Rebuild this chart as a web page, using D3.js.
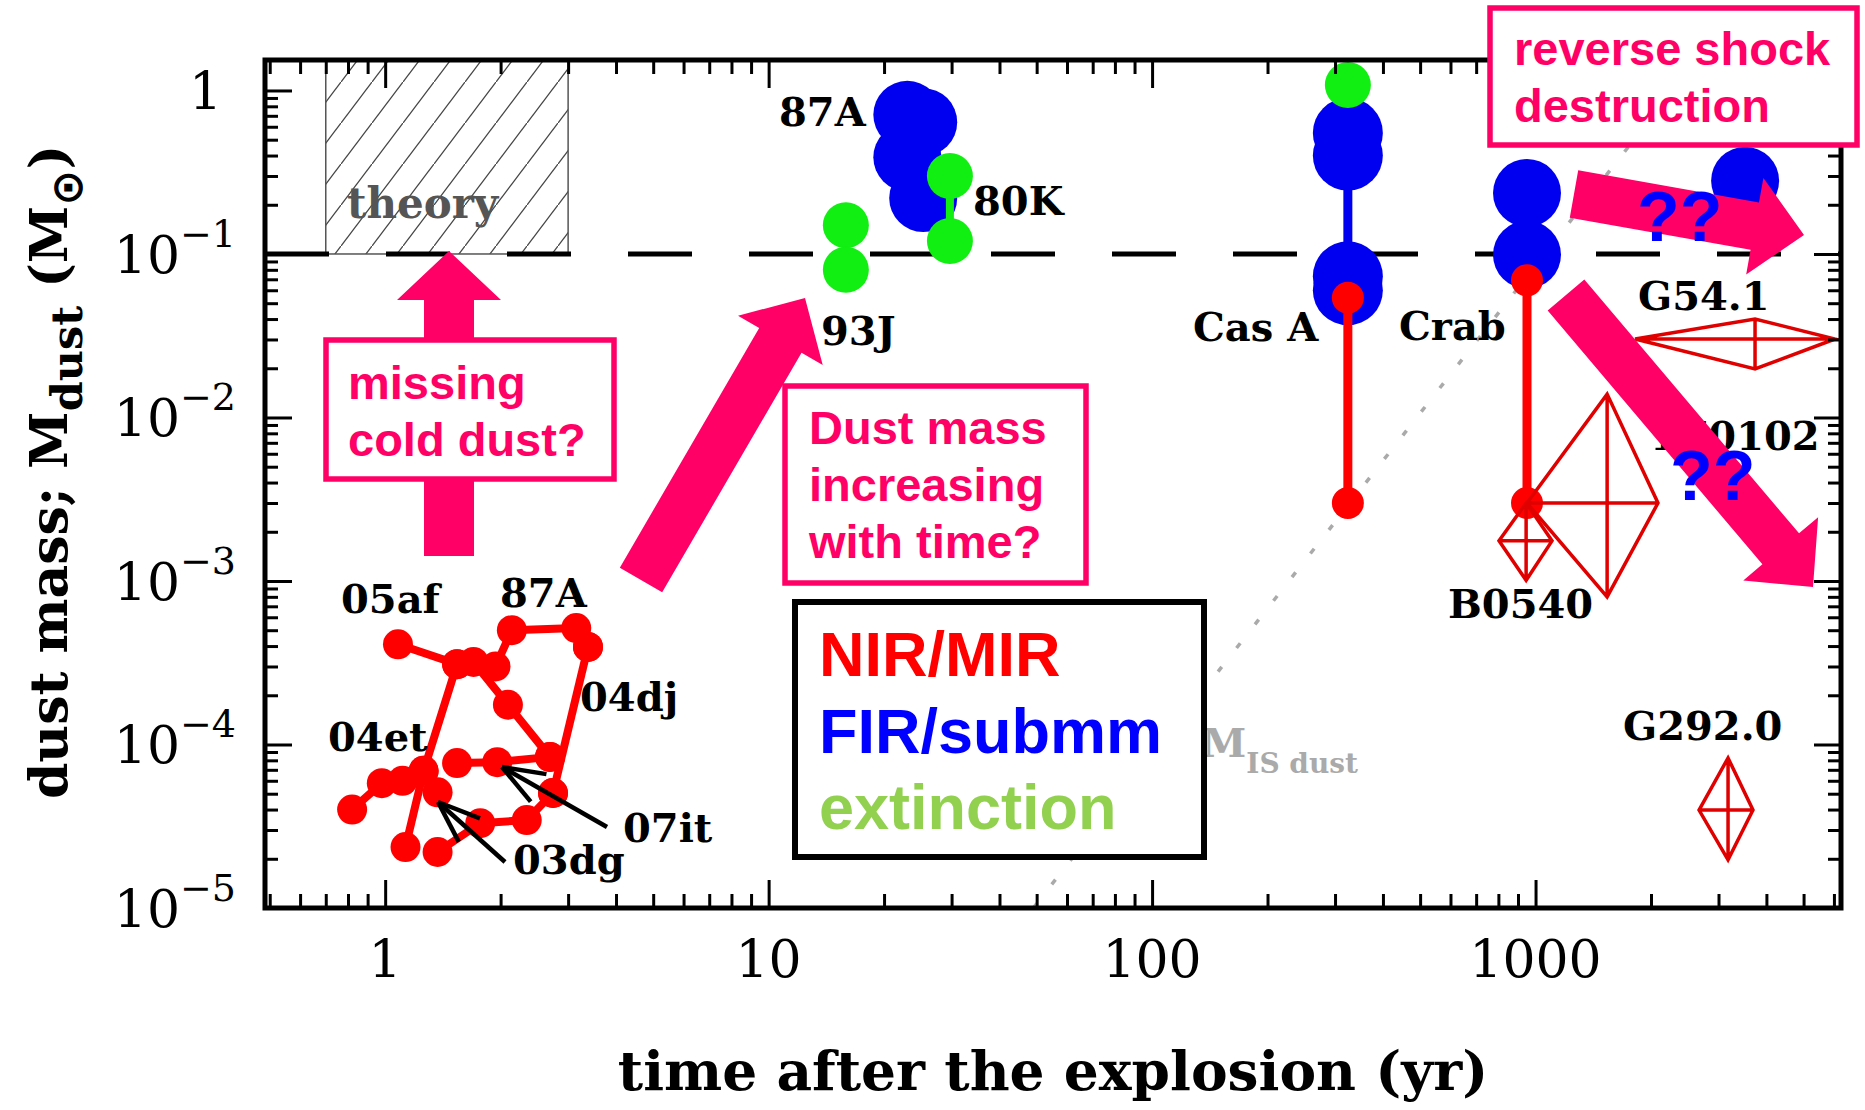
<!DOCTYPE html>
<html>
<head>
<meta charset="utf-8">
<title>Dust mass vs time after explosion</title>
<script src="https://cdn.jsdelivr.net/npm/d3@7"></script>
<style>
  body { margin: 0; background: #fff; }
  svg { display: block; }
</style>
</head>
<body>
<div id="chart"></div>
<script>
// ---- data: time after explosion (yr), dust mass (Msun) ----
const xMajor = [1, 10, 100, 1000];
const yMajor = [1, 1e-1, 1e-2, 1e-3, 1e-4, 1e-5];
const yMajorExp = [0, -1, -2, -3, -4, -5];

// NIR/MIR, young SNe (red)
const sn05af = [[1.08, 4.1e-4], [1.54, 3.1e-4], [1.70, 3.2e-4], [2.09, 1.75e-4], [2.69, 8.4e-5]];
const sn87A_ir = [[1.94, 3.0e-4], [2.14, 5.0e-4], [3.15, 5.15e-4], [3.38, 3.95e-4]];
const sn04dj = [[3.38, 3.95e-4], [2.74, 5.05e-5]];
const sn07it = [[1.54, 7.7e-5], [1.96, 7.8e-5], [2.69, 8.4e-5]];
const sn04et = [[0.82, 4.0e-5], [0.98, 5.8e-5], [1.11, 6.0e-5], [1.26, 6.9e-5], [1.37, 5.1e-5]];
const sn03dg = [[1.37, 2.2e-5], [1.77, 3.3e-5], [2.34, 3.45e-5], [2.74, 5.05e-5]];
const snOther = [[1.54, 3.1e-4], [1.26, 6.9e-5], [1.13, 2.36e-5]];
// NIR/MIR, remnants
const casA_ir = [[324, 0.054], [324, 0.003]];
const crab_ir = [[950, 0.069], [950, 0.003]];
// FIR/submm (blue)
const sn87A_fir = [[23, 0.71], [25.3, 0.64], [23, 0.39], [25.3, 0.22]];
const casA_fir = [[324, 0.55], [324, 0.40], [324, 0.073], [324, 0.060]];
const crab_fir = [[950, 0.236], [950, 0.099]];
const g541_fir = [[3520, 0.28]];
// extinction (green)
const sn93J_ext = [[15.9, 0.15], [15.9, 0.08]];
const sn80K_ext = [[29.7, 0.30], [29.7, 0.12]];
const casA_ext = [[324, 1.08]];
// remnants with ranges: name, t, tLo, tHi, M, MLo, MHi
const snrRanges = [
  ["G54.1", 3736, 1818, 6040, 0.0302, 0.0198, 0.040],
  ["1E0102", 1537, 950, 2086, 0.003, 8.0e-4, 0.0139],
  ["B0540", 945, 803, 1104, 1.76e-3, 1.01e-3, 3.0e-3],
  ["G292.0", 3177, 2669, 3690, 3.97e-5, 1.97e-5, 8.27e-5]
];
const theoryT = [0.7, 3.0];
const theoryM = [0.1, 1.536];
const refMass = 0.1;
const isDustLine = [[49, 1e-5], [2625, 1.536]];

const W = 1865, H = 1110;
const pink = "#ff0066", red = "#ff0000", blue = "#0000f0", green = "#11ee11";
const serif = "'DejaVu Serif', serif", sans = "'Liberation Sans', Arial, sans-serif";

const svg = d3.select("#chart").append("svg")
    .attr("width", W)
    .attr("height", H)
    .style("font-family", serif);

svg.append("rect").attr("width", W).attr("height", H).attr("fill", "#fff");

const x = d3.scaleLog().domain([0.486, 6260]).range([265, 1841]);
const y = d3.scaleLog().domain([1e-5, 1.536]).range([908, 60]);
const [xl, xr] = x.range();
const [yb, yt] = y.range();

const line = d3.line().x(d => x(d[0])).y(d => y(d[1]));

// hatch pattern for the theory box
const hw = 31, hh = 41;
const defs = svg.append("defs");
defs.append("pattern")
    .attr("id", "hatch")
    .attr("patternUnits", "userSpaceOnUse")
    .attr("width", hw).attr("height", hh)
  .append("path")
    .attr("d", `M${-hw},${2 * hh} L${2 * hw},${-hh}`)
    .attr("stroke", "#444")
    .attr("stroke-width", 1.3);

svg.append("rect")
    .attr("x", x(theoryT[0]))
    .attr("y", y(theoryM[1]))
    .attr("width", x(theoryT[1]) - x(theoryT[0]))
    .attr("height", y(theoryM[0]) - y(theoryM[1]))
    .attr("fill", "url(#hatch)")
    .attr("stroke", "#555")
    .attr("stroke-width", 1.5);

svg.append("text")
    .attr("x", 347).attr("y", 218)
    .attr("fill", "#555")
    .style("font-size", "42px")
    .style("font-weight", "bold")
    .text("theory");

// swept-up interstellar dust mass (dotted)
svg.append("path")
    .attr("d", line(isDustLine))
    .attr("stroke", "#aaa")
    .attr("stroke-width", 3.5)
    .attr("stroke-dasharray", "6 24")
    .attr("fill", "none");

// 0.1 Msun reference (dashed)
svg.append("path")
    .attr("d", line([[x.domain()[0], refMass], [x.domain()[1], refMass]]))
    .attr("stroke", "#000")
    .attr("stroke-width", 5)
    .attr("stroke-dasharray", "64 57")
    .attr("fill", "none");

// helper to draw a connected series
function series(pts, color, lw, r) {
  if (pts.length > 1 && lw > 0) {
    svg.append("path").attr("d", line(pts))
        .attr("fill", "none").attr("stroke", color)
        .attr("stroke-width", lw).attr("stroke-linejoin", "round");
  }
  svg.append("g").selectAll("circle").data(pts).join("circle")
      .attr("cx", d => x(d[0])).attr("cy", d => y(d[1]))
      .attr("r", r).attr("fill", color);
}

// young SNe, NIR/MIR
[sn05af, sn87A_ir, sn04dj, sn07it, sn04et, sn03dg, snOther].forEach(s => series(s, red, 8, 15));

// FIR/submm
series(sn87A_fir, blue, 0, 34);
series(casA_fir, blue, 9, 35);
series(crab_fir, blue, 0, 34);
series(g541_fir, blue, 0, 34);

// NIR/MIR remnants
series(casA_ir, red, 9, 16);
series(crab_ir, red, 9, 16);

// extinction
series(sn93J_ext, green, 0, 23);
series(sn80K_ext, green, 8, 23);
series(casA_ext, green, 0, 23);

// remnant ranges as open diamonds with a cross
const dia = svg.append("g").attr("fill", "none").attr("stroke", "#e00000")
    .attr("stroke-width", 3.5).attr("stroke-linejoin", "miter");
snrRanges.forEach(([name, t, tLo, tHi, m, mLo, mHi]) => {
  dia.append("path").attr("d",
    `M${x(tLo)},${y(m)} L${x(t)},${y(mHi)} L${x(tHi)},${y(m)} L${x(t)},${y(mLo)} Z` +
    `M${x(tLo)},${y(m)} L${x(tHi)},${y(m)} M${x(t)},${y(mHi)} L${x(t)},${y(mLo)}`);
});

// ---- frame and ticks ----
const isMajor = v => Math.abs(Math.log10(v) - Math.round(Math.log10(v))) < 1e-6;
const xMinor = x.ticks().filter(v => !isMajor(v));
const yMinor = y.ticks().filter(v => !isMajor(v));

function ticks(axis, vals, size, tr) {
  svg.append("g").attr("transform", tr)
      .call(axis.tickValues(vals).tickSize(size).tickFormat(""))
      .call(g => g.select(".domain").remove())
      .call(g => g.selectAll(".tick line").attr("stroke", "#000").attr("stroke-width", 3));
}
ticks(d3.axisBottom(x), xMajor, -28, `translate(0,${yb})`);
ticks(d3.axisBottom(x), xMinor, -14, `translate(0,${yb})`);
ticks(d3.axisTop(x), xMajor, -28, `translate(0,${yt})`);
ticks(d3.axisTop(x), xMinor, -14, `translate(0,${yt})`);
ticks(d3.axisLeft(y), yMajor, -27, `translate(${xl},0)`);
ticks(d3.axisLeft(y), yMinor, -13, `translate(${xl},0)`);
ticks(d3.axisRight(y), yMajor, -27, `translate(${xr},0)`);
ticks(d3.axisRight(y), yMinor, -13, `translate(${xr},0)`);

svg.append("rect")
    .attr("x", xl).attr("y", yt)
    .attr("width", xr - xl).attr("height", yb - yt)
    .attr("fill", "none").attr("stroke", "#000").attr("stroke-width", 5);

// tick labels
svg.append("g").selectAll("text").data(xMajor).join("text")
    .attr("x", d => x(d)).attr("y", 977)
    .attr("text-anchor", "middle")
    .style("font-size", "52px")
    .text(d => d3.format("d")(d));

yMajor.forEach((v, i) => {
  const t = svg.append("text")
      .attr("y", y(v) + 19)
      .attr("text-anchor", "end")
      .style("font-size", "52px");
  if (yMajorExp[i] === 0) {
    t.attr("x", 222).text("1");
  } else {
    t.attr("x", 236);
    t.append("tspan").text("10");
    t.append("tspan").attr("dy", -26).style("font-size", "38px").text("\u2212" + (-yMajorExp[i]));
  }
});

// axis titles
svg.append("text")
    .attr("x", 1053).attr("y", 1090)
    .attr("text-anchor", "middle")
    .style("font-size", "55px")
    .style("font-weight", "bold")
    .text("time after the explosion (yr)");

const ytl = svg.append("text")
    .attr("transform", "translate(67,472) rotate(-90)")
    .attr("text-anchor", "middle")
    .style("font-size", "52px")
    .style("font-weight", "bold");
ytl.append("tspan").text("dust mass; M");
ytl.append("tspan").attr("dy", 15).style("font-size", "43px").text("dust");
ytl.append("tspan").attr("dy", -15).text(" (M");
ytl.append("tspan").attr("dy", 15).style("font-size", "43px").style("font-family", "'DejaVu Sans'").text("\u2299");
ytl.append("tspan").attr("dy", -15).text(")");

// object labels
const labels = [
  ["05af", 341, 613], ["87A", 500, 607], ["04dj", 580, 711], ["04et", 328, 751],
  ["07it", 623, 842], ["03dg", 513, 874], ["87A", 779, 126], ["80K", 973, 215],
  ["93J", 821, 345], ["Cas A", 1193, 341], ["Crab", 1399, 340], ["G54.1", 1638, 310],
  ["1E0102", 1650, 450], ["B0540", 1448, 618], ["G292.0", 1623, 740]
];
svg.append("g").selectAll("text").data(labels).join("text")
    .attr("x", d => d[1]).attr("y", d => d[2])
    .attr("xml:space", "preserve")
    .style("font-size", "40px")
    .style("font-weight", "bold")
    .text(d => d[0]);

// black pointer arrows for 07it and 03dg
function pointer(tail, tip) {
  const a = Math.atan2(tail[1] - tip[1], tail[0] - tip[0]);
  const g = svg.append("g").attr("stroke", "#000").attr("stroke-width", 4.5).attr("fill", "none");
  g.append("path").attr("d", `M${tail[0]},${tail[1]} L${tip[0]},${tip[1]}`);
  [-0.36, 0.36].forEach(da => {
    g.append("path").attr("d",
      `M${tip[0]},${tip[1]} L${tip[0] + 45 * Math.cos(a + da)},${tip[1] + 45 * Math.sin(a + da)}`);
  });
}
pointer([607, 827], [502, 767]);
pointer([505, 862], [438, 802]);

// M_IS dust label
const mis = svg.append("text").attr("x", 1202).attr("y", 757)
    .attr("fill", "#aaa").style("font-weight", "bold").style("font-size", "40px");
mis.append("tspan").text("M");
mis.append("tspan").attr("dy", 16).style("font-size", "28px").text("IS dust");

// ---- pink annotations ----
function bigArrow(tail, tip, sw, hw2, hl) {
  const dx = tip[0] - tail[0], dy = tip[1] - tail[1], L = Math.hypot(dx, dy);
  const ux = dx / L, uy = dy / L, px = -uy, py = ux;
  const bx = tip[0] - ux * hl, by = tip[1] - uy * hl;
  const s = sw / 2, h = hw2 / 2;
  const pts = [
    [tail[0] + px * s, tail[1] + py * s], [bx + px * s, by + py * s], [bx + px * h, by + py * h], tip,
    [bx - px * h, by - py * h], [bx - px * s, by - py * s], [tail[0] - px * s, tail[1] - py * s]
  ];
  svg.append("polygon").attr("points", pts.map(p => p.join(",")).join(" ")).attr("fill", pink);
}
bigArrow([449, 556], [449, 251], 50, 104, 49);
bigArrow([641, 580], [805, 298], 49, 98, 49);
bigArrow([1574, 194], [1804, 235], 48, 98, 50);
bigArrow([1566, 295], [1813, 587], 48, 98, 50);

function noteBox(x0, y0, x1, y1, lines, tx, ty0, dy) {
  svg.append("rect").attr("x", x0).attr("y", y0).attr("width", x1 - x0).attr("height", y1 - y0)
      .attr("fill", "#fff").attr("stroke", pink).attr("stroke-width", 5.5);
  svg.append("g").selectAll("text").data(lines).join("text")
      .attr("x", tx).attr("y", (d, i) => ty0 + i * dy)
      .attr("fill", pink)
      .style("font-family", sans).style("font-weight", "bold").style("font-size", "47px")
      .text(d => d);
}
noteBox(326, 340, 614, 479, ["missing", "cold dust?"], 348, 399, 57);
noteBox(785, 386, 1086, 583, ["Dust mass", "increasing", "with time?"], 809, 444, 57);
noteBox(1490, 8, 1857, 145, ["reverse shock", "destruction"], 1514, 65, 57);

svg.append("g").selectAll("text").data([[1637, 241], [1670, 500]]).join("text")
    .attr("x", d => d[0]).attr("y", d => d[1])
    .attr("fill", "#0000ff")
    .style("font-family", sans).style("font-weight", "bold").style("font-size", "70px")
    .text("??");

// ---- legend ----
svg.append("rect").attr("x", 795).attr("y", 602).attr("width", 409).attr("height", 255)
    .attr("fill", "#fff").attr("stroke", "#000").attr("stroke-width", 6);
const legendItems = ["NIR/MIR", "FIR/submm", "extinction"];
const legendColors = ["#ff0000", "#0000ff", "#92d050"];
svg.append("g").selectAll("text").data(legendItems).join("text")
    .attr("x", 819).attr("y", (d, i) => 676 + i * 76.5)
    .attr("fill", (d, i) => legendColors[i])
    .style("font-family", sans).style("font-weight", "bold").style("font-size", "63px")
    .text(d => d);
</script>
</body>
</html>
